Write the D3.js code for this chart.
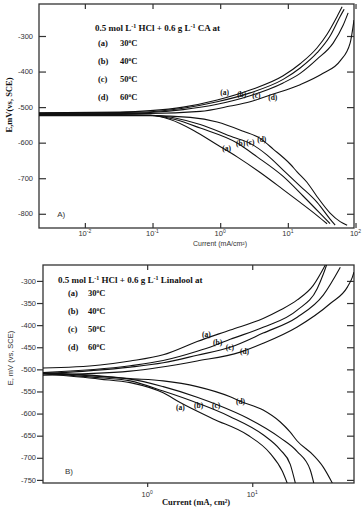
<!DOCTYPE html>
<html>
<head>
<meta charset="utf-8">
<script src="https://cdn.jsdelivr.net/npm/d3@7"></script>
<style>
  body { margin: 0; background: #fff; }
  svg { display: block; }
  .serif { font-family: "Liberation Serif", "Times New Roman", serif; font-weight: bold; fill: #111; }
  .sans { font-family: "Liberation Sans", Arial, sans-serif; fill: #333; }
</style>
</head>
<body>
<svg id="chart" width="362" height="510"></svg>
<script>
// ---- data: [current (mA/cm2), E (mV vs SCE)] ----
const temps = ['30', '40', '50', '60'];
const curveNames = ['(a)', '(b)', '(c)', '(d)'];

// panel A : 0.6 g/L CA
const A_anodic = [
  [[0.0021,-516],[0.0333,-514],[0.0925,-510],[0.284,-500],[0.903,-480],[2.77,-452],[8.53,-412],[15.2,-378],[27.1,-333],[38,-295],[53.5,-245],[63.4,-218]],
  [[0.0021,-517],[0.0333,-515],[0.0925,-513],[0.284,-503],[0.903,-485],[2.77,-460],[8.53,-422],[15.2,-390],[27.1,-347],[42.1,-300],[59.3,-245],[67.9,-225]],
  [[0.0021,-518],[0.0333,-517],[0.0925,-515],[0.284,-507],[0.903,-492],[2.77,-468],[8.53,-432],[15.2,-405],[27.1,-365],[46.7,-320],[65.6,-270],[77.8,-235]],
  [[0.0021,-519],[0.0333,-518],[0.0925,-518],[0.507,-512],[1.41,-497],[2.77,-485],[5.48,-466],[15.2,-437],[33.2,-405],[59.3,-370],[83.2,-320],[95,-255]]
];
const A_cathodic = [
  [[0.0021,-521],[0.0333,-521],[0.0925,-523],[0.183,-535],[0.399,-565],[0.903,-606],[1.78,-640],[3.9,-684],[8.53,-732],[15.2,-768],[27.1,-805],[38,-828]],
  [[0.0021,-522],[0.0333,-522],[0.0925,-523],[0.216,-535],[0.507,-559],[1.78,-601],[3.52,-640],[8.53,-695],[16.8,-750],[30,-799],[42.1,-828]],
  [[0.0021,-523],[0.0333,-523],[0.0925,-523],[0.507,-549],[1.56,-585],[2.77,-602],[4.95,-635],[8.53,-677],[15.2,-722],[27.1,-768],[42.1,-815],[50,-832]],
  [[0.0021,-524],[0.0333,-524],[0.0925,-524],[0.361,-529],[0.903,-542],[2.19,-568],[3.9,-588],[6.07,-618],[10.8,-660],[13.7,-682],[19.3,-712],[27.1,-752],[42.1,-798],[59.3,-822],[75.2,-832]]
];
const A_anodicLabels = [[1.0,-466],[1.78,-472],[2.97,-474],[5.12,-480]];
const A_cathodicLabels = [[1.07,-623],[1.72,-609],[2.42,-607],[3.52,-598]];
const A_xTicks = [-2, -1, 0, 1, 2];
const A_yTicks = [-300, -400, -500, -600, -700, -800];

// panel B : 0.6 g/L Linalool
const B_anodic = [
  [[0.102,-497],[0.357,-490],[0.689,-481],[1.42,-467],[2.99,-437],[6.17,-411],[12.7,-385],[18.5,-366],[26.8,-343],[38.1,-310],[49.6,-264]],
  [[0.102,-507],[0.689,-492],[1.42,-480],[2.99,-459],[4.25,-447],[6.17,-432],[12.7,-405],[26.8,-366],[41.6,-317],[47.4,-285],[51,-264]],
  [[0.102,-510],[0.689,-495],[1.42,-485],[2.99,-468],[6.17,-450],[12.7,-418],[26.8,-382],[47.4,-332],[68.9,-269]],
  [[0.102,-513],[0.689,-504],[2.99,-481],[7.69,-461],[12.7,-441],[26.8,-404],[55.3,-351],[80.4,-314],[89.6,-292],[93,-280]]
];
const B_cathodic = [
  [[0.102,-510],[0.357,-522],[0.689,-530],[1.42,-553],[2.06,-575],[4.25,-612],[8.96,-648],[14.8,-690],[19.3,-730],[21.5,-757]],
  [[0.102,-509],[0.357,-519],[0.689,-526],[1.42,-549],[2.99,-576],[6.17,-607],[12.7,-648],[18.5,-682],[23,-715],[25.7,-757]],
  [[0.102,-508],[0.689,-522],[1.42,-539],[2.99,-563],[4.64,-580],[8.96,-610],[18.5,-655],[26.8,-686],[35.6,-727],[38.5,-757]],
  [[0.102,-507],[0.689,-521],[1.42,-526],[2.99,-539],[6.17,-562],[7.69,-572],[12.7,-592],[18.5,-619],[23,-642],[26.8,-662],[38.1,-694],[47.4,-721],[57.8,-757]]
];
const B_anodicLabels = [[3.32,-427],[4.23,-445],[5.6,-456],[7.64,-465]];
const B_cathodicLabels = [[1.88,-592],[2.79,-587],[4.14,-587],[7.0,-578]];
const B_xTicks = [0, 1];
const B_yTicks = [-300, -350, -400, -450, -500, -550, -600, -650, -700, -750];

const svg = d3.select('#chart');
svg.append('rect').attr('width', 362).attr('height', 510).attr('fill', '#fff');

// draws one panel
function make_panel(p) {
  let g = svg.append('g');

  let x = d3.scaleLog().domain(p.xDomain).range([p.left, p.right]);
  let y = d3.scaleLinear().domain(p.yDomain).range([p.bottom, p.top]);

  let clipId = 'clip' + p.name;
  g.append('clipPath').attr('id', clipId)
    .append('rect')
    .attr('x', p.left).attr('y', p.top)
    .attr('width', p.right - p.left).attr('height', p.bottom - p.top);

  // ticks on the four sides
  let xt = p.xTicks.map(d => Math.pow(10, d));
  let sides = [
    [d3.axisBottom(x).tickValues(xt).tickSize(p.bottomTick), `translate(0,${p.bottom})`],
    [d3.axisTop(x).tickValues(xt).tickSize(-5), `translate(0,${p.top})`],
    [d3.axisLeft(y).tickValues(p.yTicks).tickSize(p.leftTick), `translate(${p.left},0)`],
    [d3.axisRight(y).tickValues(p.yTicks).tickSize(-7), `translate(${p.right},0)`]
  ];
  sides.forEach(s => {
    let a = g.append('g').attr('transform', s[1]).call(s[0].tickFormat(''));
    a.select('.domain').remove();
    a.selectAll('line').attr('stroke', '#333').attr('stroke-width', 1.2);
  });

  // frame
  g.append('rect')
    .attr('x', p.left).attr('y', p.top)
    .attr('width', p.right - p.left).attr('height', p.bottom - p.top)
    .attr('fill', 'none').attr('stroke', '#333').attr('stroke-width', 1.3);

  // y tick labels
  g.append('g').selectAll('text')
    .data(p.yTicks)
    .join('text')
    .attr('class', 'sans')
    .attr('font-size', 7.5)
    .attr('text-anchor', 'end')
    .attr('x', p.yLabelX)
    .attr('y', d => y(d) + 2.7)
    .text(d => d);

  // x tick labels, 10 with a superscript
  let xl = g.append('g').selectAll('text')
    .data(p.xTicks)
    .join('text')
    .attr('class', 'sans')
    .attr('font-size', 7.5)
    .attr('text-anchor', 'middle')
    .attr('x', d => x(Math.pow(10, d)))
    .attr('y', p.xLabelY);
  xl.append('tspan').text('10');
  xl.append('tspan').attr('font-size', 5).attr('dy', -3.5).text(d => d);

  // curves
  let line = d3.line()
    .x(d => x(d[0]))
    .y(d => y(d[1]))
    .curve(d3.curveMonotoneX);

  g.append('g').attr('clip-path', `url(#${clipId})`)
    .selectAll('path')
    .data(p.anodic.concat(p.cathodic))
    .join('path')
    .attr('d', line)
    .attr('fill', 'none')
    .attr('stroke', '#111')
    .attr('stroke-width', 1.1);

  // curve labels
  g.append('g').selectAll('text')
    .data(p.anodicLabels.concat(p.cathodicLabels))
    .join('text')
    .attr('class', 'serif')
    .attr('font-size', 7.5)
    .attr('x', d => x(d[0]))
    .attr('y', d => y(d[1]))
    .text((d, i) => curveNames[i % 4]);

  // panel letter
  g.append('text')
    .attr('class', 'sans')
    .attr('font-size', 8)
    .attr('x', x(p.letterPos[0]))
    .attr('y', y(p.letterPos[1]))
    .text(p.letter);

  return {x: x, y: y, g: g};
}

// legend block with the solution title and the temperatures
function make_legend(g, lx, ly, title, extract) {
  let t = g.append('text').attr('class', 'serif').attr('font-size', 9)
    .attr('x', lx).attr('y', ly);
  t.append('tspan').text('0.5 mol L');
  t.append('tspan').attr('font-size', 6).attr('dy', -3.5).text('-1');
  t.append('tspan').attr('dy', 3.5).text(' HCl + 0.6 g L');
  t.append('tspan').attr('font-size', 6).attr('dy', -3.5).text('-1');
  t.append('tspan').attr('dy', 3.5).text(' ' + extract + ' at');

  temps.forEach((tp, i) => {
    let yy = ly + title.rowStart + i * title.rowGap;
    g.append('text').attr('class', 'serif').attr('font-size', 8.5)
      .attr('x', lx + title.keyOff).attr('y', yy).text(curveNames[i]);
    let tt = g.append('text').attr('class', 'serif').attr('font-size', 8.5)
      .attr('x', lx + title.tempOff).attr('y', yy);
    tt.append('tspan').text(tp);
    tt.append('tspan').attr('font-size', 5.5).attr('dy', -3.5).text('o');
    tt.append('tspan').attr('dy', 3.5).text('C');
  });
}

// ---- panel A ----
let A = make_panel({
  name: 'A', left: 39, right: 354, top: 4, bottom: 228,
  xDomain: [0.0021, 95], yDomain: [-840, -210],
  xTicks: A_xTicks, yTicks: A_yTicks,
  bottomTick: -5, leftTick: -7, yLabelX: 33, xLabelY: 236,
  anodic: A_anodic, cathodic: A_cathodic,
  anodicLabels: A_anodicLabels, cathodicLabels: A_cathodicLabels,
  letter: 'A)', letterPos: [0.0039, -809]
});
make_legend(A.g, 95, 31, {rowStart: 15, rowGap: 18, keyOff: 3, tempOff: 25}, 'CA');

A.g.append('text')
  .attr('class', 'sans').attr('font-size', 7)
  .attr('text-anchor', 'middle')
  .attr('x', 220).attr('y', 245.5)
  .text('Current (mA/cm²)');

A.g.append('text')
  .attr('class', 'serif').attr('font-size', 8.5)
  .attr('text-anchor', 'middle')
  .attr('transform', 'translate(12,105) rotate(-90)')
  .text('E,mV(vs, SCE)');

// ---- panel B ----
let B = make_panel({
  name: 'B', left: 43, right: 354, top: 265, bottom: 483,
  xDomain: [0.102, 93], yDomain: [-757, -264],
  xTicks: B_xTicks, yTicks: B_yTicks,
  bottomTick: 4, leftTick: 6, yLabelX: 36, xLabelY: 497,
  anodic: B_anodic, cathodic: B_cathodic,
  anodicLabels: B_anodicLabels, cathodicLabels: B_cathodicLabels,
  letter: 'B)', letterPos: [0.165, -736]
});
make_legend(B.g, 58, 283, {rowStart: 13, rowGap: 18, keyOff: 10, tempOff: 30}, 'Linalool');

B.g.append('text')
  .attr('class', 'serif').attr('font-size', 8.5)
  .attr('text-anchor', 'middle')
  .attr('x', 196).attr('y', 505)
  .text('Current (mA, cm²)');

B.g.append('text')
  .attr('class', 'sans').attr('font-size', 7.5)
  .attr('text-anchor', 'middle')
  .attr('transform', 'translate(13,358) rotate(-90)')
  .text('E, mV (vs, SCE)');
</script>
</body>
</html>
